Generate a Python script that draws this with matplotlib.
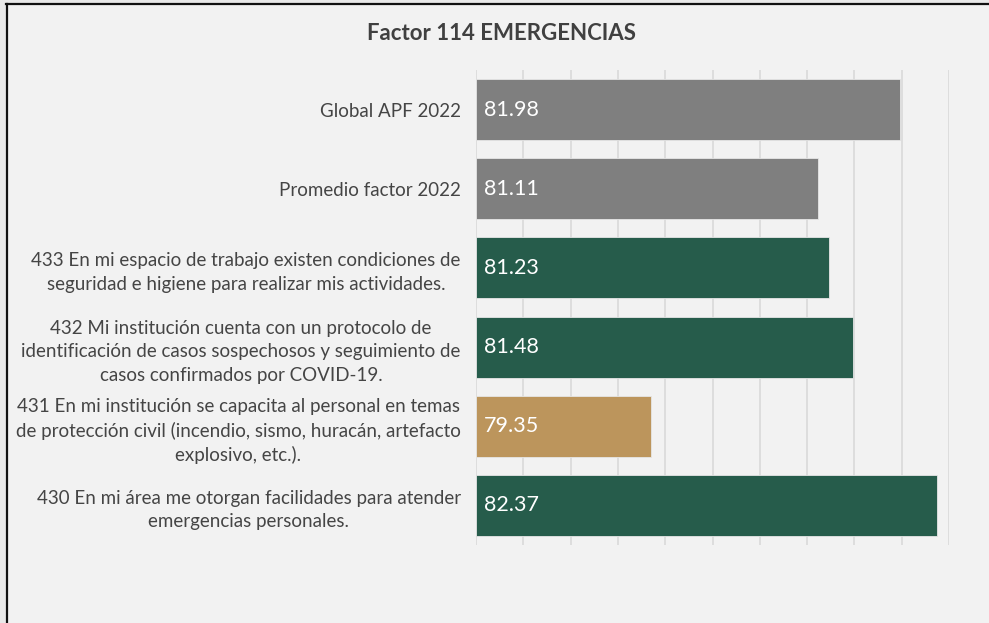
import matplotlib
matplotlib.use("Agg")
import matplotlib.pyplot as plt
from matplotlib.lines import Line2D

categories = [
    "Global APF 2022",
    "Promedio factor 2022",
    "433 En mi espacio de trabajo existen condiciones de\nseguridad e higiene para realizar mis actividades.",
    "432 Mi institución cuenta con un protocolo de\nidentificación de casos sospechosos y seguimiento de\ncasos confirmados por COVID-19.",
    "431 En mi institución se capacita al personal en temas\nde protección civil (incendio, sismo, huracán, artefacto\nexplosivo, etc.).",
    "430 En mi área me otorgan facilidades para atender\nemergencias personales.",
]
values = [81.98, 81.11, 81.23, 81.48, 79.35, 82.37]
value_labels = ["81.98", "81.11", "81.23", "81.48", "79.35", "82.37"]
bar_colors = ["#7f7f7f", "#7f7f7f", "#265c4b", "#265c4b", "#bc955c", "#265c4b"]
title = "Factor 114 EMERGENCIAS"

xmin, xmax, xstep = 77.5, 82.5, 0.5

plt.rcParams['font.family'] = ['Lato', 'DejaVu Sans']

fig = plt.figure(figsize=(9.89, 6.23), dpi=100)
fig.patch.set_facecolor("#f2f2f2")
ax = fig.add_axes([476/989, 1-545/623, (949-476)/989, (545-70)/623])
ax.set_facecolor("#f2f2f2")

ypos = list(range(len(categories)))
ax.barh(ypos, [v - xmin for v in values], left=xmin, height=0.77,
        color=bar_colors, edgecolor="#e6e6e6", linewidth=0.6, zorder=3)
for y, v, lab in zip(ypos, values, value_labels):
    ax.text(xmin + 0.08, y, lab, color="white", fontsize=15.5, va="center",
            ha="left", zorder=4)

ax.set_xlim(xmin, xmax)
ax.set_ylim(len(categories) - 0.5, -0.5)
ticks = [xmin + i * xstep for i in range(int(round((xmax - xmin) / xstep)) + 1)]
ax.set_xticks(ticks)
ax.set_xticklabels([])
ax.tick_params(axis="x", length=0)
ax.grid(axis="x", color="#d9d9d9", linewidth=1.2, zorder=0)
ax.set_axisbelow(True)
ax.set_yticks(ypos)
ax.set_yticklabels(categories, fontsize=13.5, color="#454545",
                   multialignment="center", linespacing=1.45)
ax.tick_params(axis="y", length=0, pad=11)
for s in ax.spines.values():
    s.set_visible(False)

fig.text(0.507, 0.946, title, ha="center", va="center", fontsize=16,
         fontweight="bold", color="#404040")

# outer frame
fig.patches.append(plt.Rectangle((0, 0), 6/989, 1, transform=fig.transFigure,
                                 facecolor="#e9e9e9", edgecolor="none", zorder=0))
fig.patches.append(plt.Rectangle((0, 1-3/623), 1, 3/623, transform=fig.transFigure,
                                 facecolor="#e9e9e9", edgecolor="none", zorder=0))
fig.lines.append(Line2D([7/989, 7/989], [0, 1-4/623], transform=fig.transFigure,
                        color="#111111", linewidth=1.6))
fig.lines.append(Line2D([6/989, 1], [1-4/623, 1-4/623], transform=fig.transFigure,
                        color="#111111", linewidth=1.6))

fig.savefig("out.png", dpi=100, facecolor=fig.get_facecolor())
